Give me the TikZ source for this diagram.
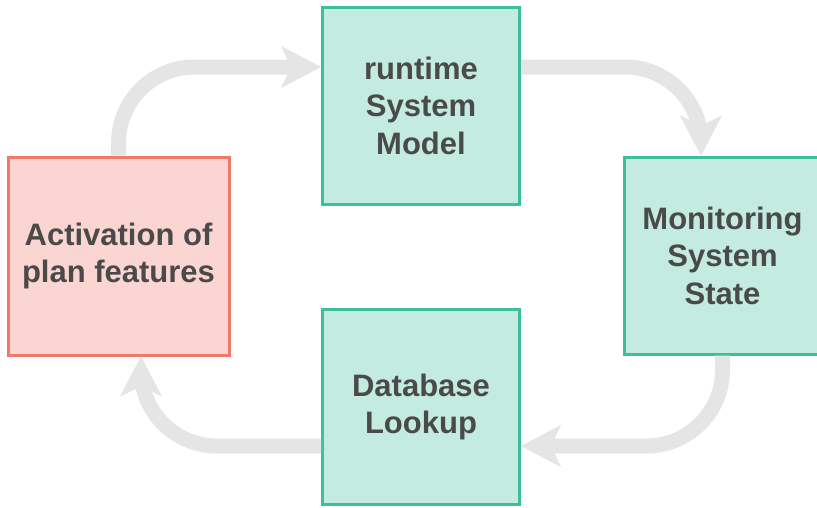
\documentclass[tikz,border=0pt]{standalone}
\usepackage{fontspec}
\setmainfont{Liberation Sans}
\usetikzlibrary{arrows.meta}
\definecolor{mintfill}{HTML}{C3EBE0}
\definecolor{mintline}{HTML}{3DBF9C}
\definecolor{pinkfill}{HTML}{FBD5D1}
\definecolor{pinkline}{HTML}{F07A6A}
\definecolor{flowgray}{HTML}{E5E5E5}
\definecolor{textgray}{HTML}{4A4A4A}
\tikzset{
  box/.style={draw, line width=3pt, minimum width=197pt, minimum height=197pt,
    align=center, text=textgray, inner sep=0pt,
    font=\fontsize{31pt}{37.5pt}\selectfont\bfseries},
  mintbox/.style={box, draw=mintline, fill=mintfill},
  pinkbox/.style={box, draw=pinkline, fill=pinkfill},
  flow/.style={draw=flowgray, line width=15pt, rounded corners=76pt,
    -{Stealth[length=40pt, width=42pt, inset=10pt, line width=0.01pt]}},
}
\begin{document}
\begin{tikzpicture}[x=1pt, y=-1pt]
  \useasboundingbox (0,0) rectangle (817,507);
  \begin{scope}
    \clip (0,0) rectangle (817,507);
    % the four steps of the cycle
    \node[pinkbox, minimum width=221pt, minimum height=198pt] (plan) at (118.5,256) {Activation of\\plan features};
    \node[mintbox] (model) at (421,105.5) {runtime\\System\\Model};
    \node[mintbox] (monitor) at (722.5,255.5) {Monitoring\\System\\State};
    \node[mintbox, minimum height=195pt] (lookup) at (421,407) {Database\\Lookup};
    % connectors around the cycle
    \draw[flow] (plan.north) |- ([yshift=38.5pt]model.west);
    \draw[flow] ([yshift=38.5pt]model.east) -| ([xshift=-21.5pt]monitor.north);
    \draw[flow] (monitor.south) |- ([yshift=-39pt]lookup.east);
    \draw[flow] ([yshift=-39pt]lookup.west) -| ([xshift=22.5pt]plan.south);
  \end{scope}
\end{tikzpicture}
\end{document}
